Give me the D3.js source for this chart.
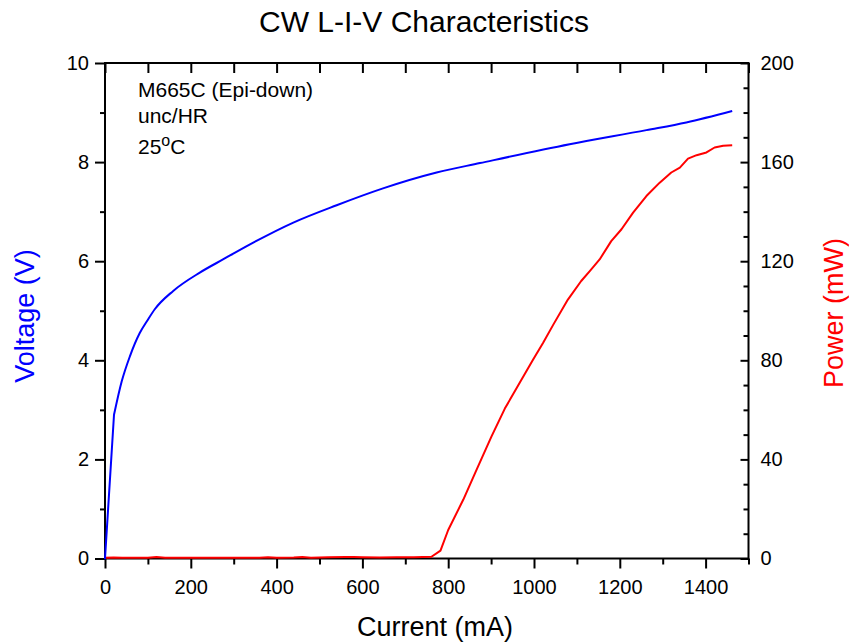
<!DOCTYPE html>
<html>
<head>
<meta charset="utf-8">
<script src="https://cdn.jsdelivr.net/npm/d3@7"></script>
<style>
  html, body { margin: 0; padding: 0; background: #fff; }
  svg { display: block; }
  text { font-family: "Liberation Sans", Arial, sans-serif; }
</style>
</head>
<body>
<svg id="chart" width="849" height="644"></svg>
<script>
// ---- data ----
const voltageCurrent = [0, 21, 39, 58, 81, 100, 116, 159, 221, 276, 338, 439, 540, 648, 773, 874, 1083, 1262, 1355, 1462];
const voltageValues  = [0, 2.90, 3.575, 4.08, 4.55, 4.82, 5.03, 5.40, 5.77, 6.04, 6.34, 6.78, 7.13, 7.47, 7.79, 7.98, 8.36, 8.645, 8.80, 9.03];

const powerCurrent = [0, 20, 40, 60, 80, 100, 120, 140, 160, 200, 240, 280, 320, 360, 380, 400, 440, 460, 480, 520, 560, 580, 600, 640, 680, 720, 761,
                      782, 800, 835, 866, 901, 932, 967, 998, 1021, 1045, 1079, 1110, 1130, 1153, 1180, 1204, 1231, 1262, 1293, 1320, 1340, 1359, 1379, 1402, 1421, 1441, 1462];
const powerValues  = [0.3, 0.4, 0.3, 0.3, 0.3, 0.3, 0.6, 0.3, 0.3, 0.3, 0.3, 0.3, 0.3, 0.3, 0.5, 0.3, 0.4, 0.6, 0.3, 0.5, 0.6, 0.6, 0.5, 0.4, 0.5, 0.5, 0.7,
                      3.2, 11.5, 23.7, 35.8, 49.3, 60.5, 71, 80.3, 87, 94.4, 104.5, 112, 116, 120.7, 128.1, 132.9, 139.6, 146.3, 151.7, 155.8, 157.8, 161.4, 162.8, 163.9, 165.9, 166.6, 166.8];

const xMajorTicks = [0, 200, 400, 600, 800, 1000, 1200, 1400];
const xMinorTicks = [100, 300, 500, 700, 900, 1100, 1300, 1500];
const xTopTicks = d3.range(0, 1501, 100);
const vMajorTicks = [0, 2, 4, 6, 8, 10];
const vMinorTicks = [1, 3, 5, 7, 9];
const pMajorTicks = [0, 40, 80, 120, 160, 200];
const pMinorTicks = d3.range(10, 200, 10).filter(d => d % 40 !== 0);

const titleText = "CW L-I-V Characteristics";
const xLabel = "Current (mA)";
const vLabel = "Voltage (V)";
const pLabel = "Power (mW)";
const noteLines = ["M665C (Epi-down)", "unc/HR"];

// ---- layout ----
const svg = d3.select("#chart");
const L = 105, R = 748.5, T = 63, B = 558.5;

const x = d3.scaleLinear().domain([0, 1500]).range([L, R]);
const yV = d3.scaleLinear().domain([0, 10]).range([B, T]);
const yP = d3.scaleLinear().domain([0, 200]).range([B, T]);

function styleAxis(g) {
  g.selectAll(".domain").remove();
  g.selectAll("line").attr("stroke", "#000").attr("stroke-width", 2);
  g.selectAll("text").attr("fill", "#000").style("font-size", "20px")
    .style("font-family", "'Liberation Sans', Arial, sans-serif");
}

// bottom axis
svg.append("g").attr("transform", `translate(0,${B})`)
  .call(d3.axisBottom(x).tickValues(xMinorTicks).tickSize(6).tickFormat(""))
  .call(styleAxis);
svg.append("g").attr("transform", `translate(0,${B})`)
  .call(d3.axisBottom(x).tickValues(xMajorTicks).tickSize(10).tickPadding(11).tickFormat(d3.format("d")))
  .call(styleAxis);
// top axis (inward ticks)
svg.append("g").attr("transform", `translate(0,${T})`)
  .call(d3.axisTop(x).tickValues(xTopTicks).tickSize(-10).tickFormat(""))
  .call(styleAxis);
// left axis
svg.append("g").attr("transform", `translate(${L},0)`)
  .call(d3.axisLeft(yV).tickValues(vMinorTicks).tickSize(5).tickFormat(""))
  .call(styleAxis);
svg.append("g").attr("transform", `translate(${L},0)`)
  .call(d3.axisLeft(yV).tickValues(vMajorTicks).tickSize(10).tickPadding(6).tickFormat(d3.format("d")))
  .call(styleAxis);
// right axis (inward ticks, outside labels)
svg.append("g").attr("transform", `translate(${R},0)`)
  .call(d3.axisRight(yP).tickValues(pMinorTicks).tickSize(-5).tickFormat(""))
  .call(styleAxis);
svg.append("g").attr("transform", `translate(${R},0)`)
  .call(d3.axisRight(yP).tickValues(pMajorTicks).tickSize(-8).tickPadding(12).tickFormat(d3.format("d")))
  .call(styleAxis);

// frame
svg.append("rect").attr("x", L).attr("y", T).attr("width", R - L).attr("height", B - T)
  .attr("fill", "none").attr("stroke", "#000").attr("stroke-width", 2);

// lines
const vData = voltageCurrent.map((c, i) => [c, voltageValues[i]]);
const pData = powerCurrent.map((c, i) => [c, powerValues[i]]);

svg.append("path").datum(pData)
  .attr("fill", "none").attr("stroke", "#ff0000").attr("stroke-width", 2).attr("stroke-linejoin", "round")
  .attr("d", d3.line().x(d => x(d[0])).y(d => yP(d[1])));
// sharp turn-on knee drawn straight, rest smooth
svg.append("path").datum(vData.slice(0, 2))
  .attr("fill", "none").attr("stroke", "#0000ff").attr("stroke-width", 2).attr("stroke-linecap", "round")
  .attr("d", d3.line().x(d => x(d[0])).y(d => yV(d[1])));
svg.append("path").datum(vData.slice(1))
  .attr("fill", "none").attr("stroke", "#0000ff").attr("stroke-width", 2).attr("stroke-linejoin", "round")
  .attr("d", d3.line().curve(d3.curveMonotoneX).x(d => x(d[0])).y(d => yV(d[1])));

// title
svg.append("text").attr("x", 424).attr("y", 32).attr("text-anchor", "middle")
  .style("font-size", "30px").attr("fill", "#000").text(titleText);

// axis labels
svg.append("text").attr("x", 435).attr("y", 636).attr("text-anchor", "middle")
  .style("font-size", "27px").attr("fill", "#000").text(xLabel);
svg.append("text").attr("transform", "translate(34,316) rotate(-90)").attr("text-anchor", "middle")
  .style("font-size", "27px").attr("fill", "#0000ff").text(vLabel);
svg.append("text").attr("transform", "translate(843,313) rotate(-90)").attr("text-anchor", "middle")
  .style("font-size", "27px").attr("fill", "#ff0000").text(pLabel);

// annotation
const note = svg.append("g").style("font-size", "21px").attr("fill", "#000");
note.append("text").attr("x", 138).attr("y", 97).text(noteLines[0]);
note.append("text").attr("x", 138).attr("y", 123).text(noteLines[1]);
const t3 = note.append("text").attr("x", 138).attr("y", 154);
t3.append("tspan").text("25");
t3.append("tspan").attr("dy", -8).style("font-size", "16px").text("o");
t3.append("tspan").attr("dy", 8).text("C");
</script>
</body>
</html>
